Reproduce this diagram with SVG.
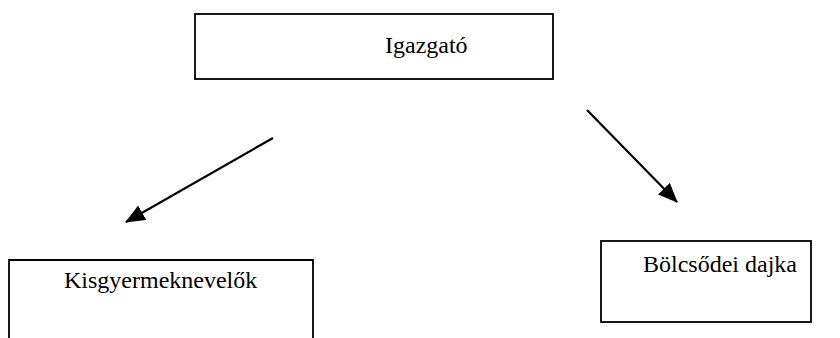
<svg xmlns="http://www.w3.org/2000/svg" width="840" height="338" viewBox="0 0 840 338">
<style>
.box{fill:#fff;stroke:#000;stroke-width:1.8}
.lbl{font-family:"Liberation Serif","Times New Roman",serif;font-size:24px;fill:#000}
.conn{stroke:#000;stroke-width:2.2;fill:none}
</style>
<defs>
<marker id="ah" markerWidth="9" markerHeight="7.5" refX="8.5" refY="3.75" orient="auto" markerUnits="strokeWidth">
<path d="M0,0 L9,3.75 L0,7.5 z" fill="#000"/>
</marker>
</defs>
<rect width="840" height="338" fill="#fff"/>
<g id="igazgato">
<rect class="box" x="195" y="14" width="358" height="65"/>
<text class="lbl" x="385" y="53">Igazgató</text>
</g>
<g id="kisgyermeknevelok">
<path class="box" d="M9,345 V260 H313 V345"/>
<text class="lbl" x="64" y="288">Kisgyermeknevelők</text>
</g>
<g id="bolcsodei-dajka">
<rect class="box" x="601" y="241" width="210" height="81"/>
<text class="lbl" x="643" y="272">Bölcsődei dajka</text>
</g>
<g id="connectors">
<line class="conn" x1="273" y1="138" x2="126" y2="222" marker-end="url(#ah)"/>
<line class="conn" x1="587" y1="110" x2="677" y2="202" marker-end="url(#ah)"/>
</g>
</svg>
